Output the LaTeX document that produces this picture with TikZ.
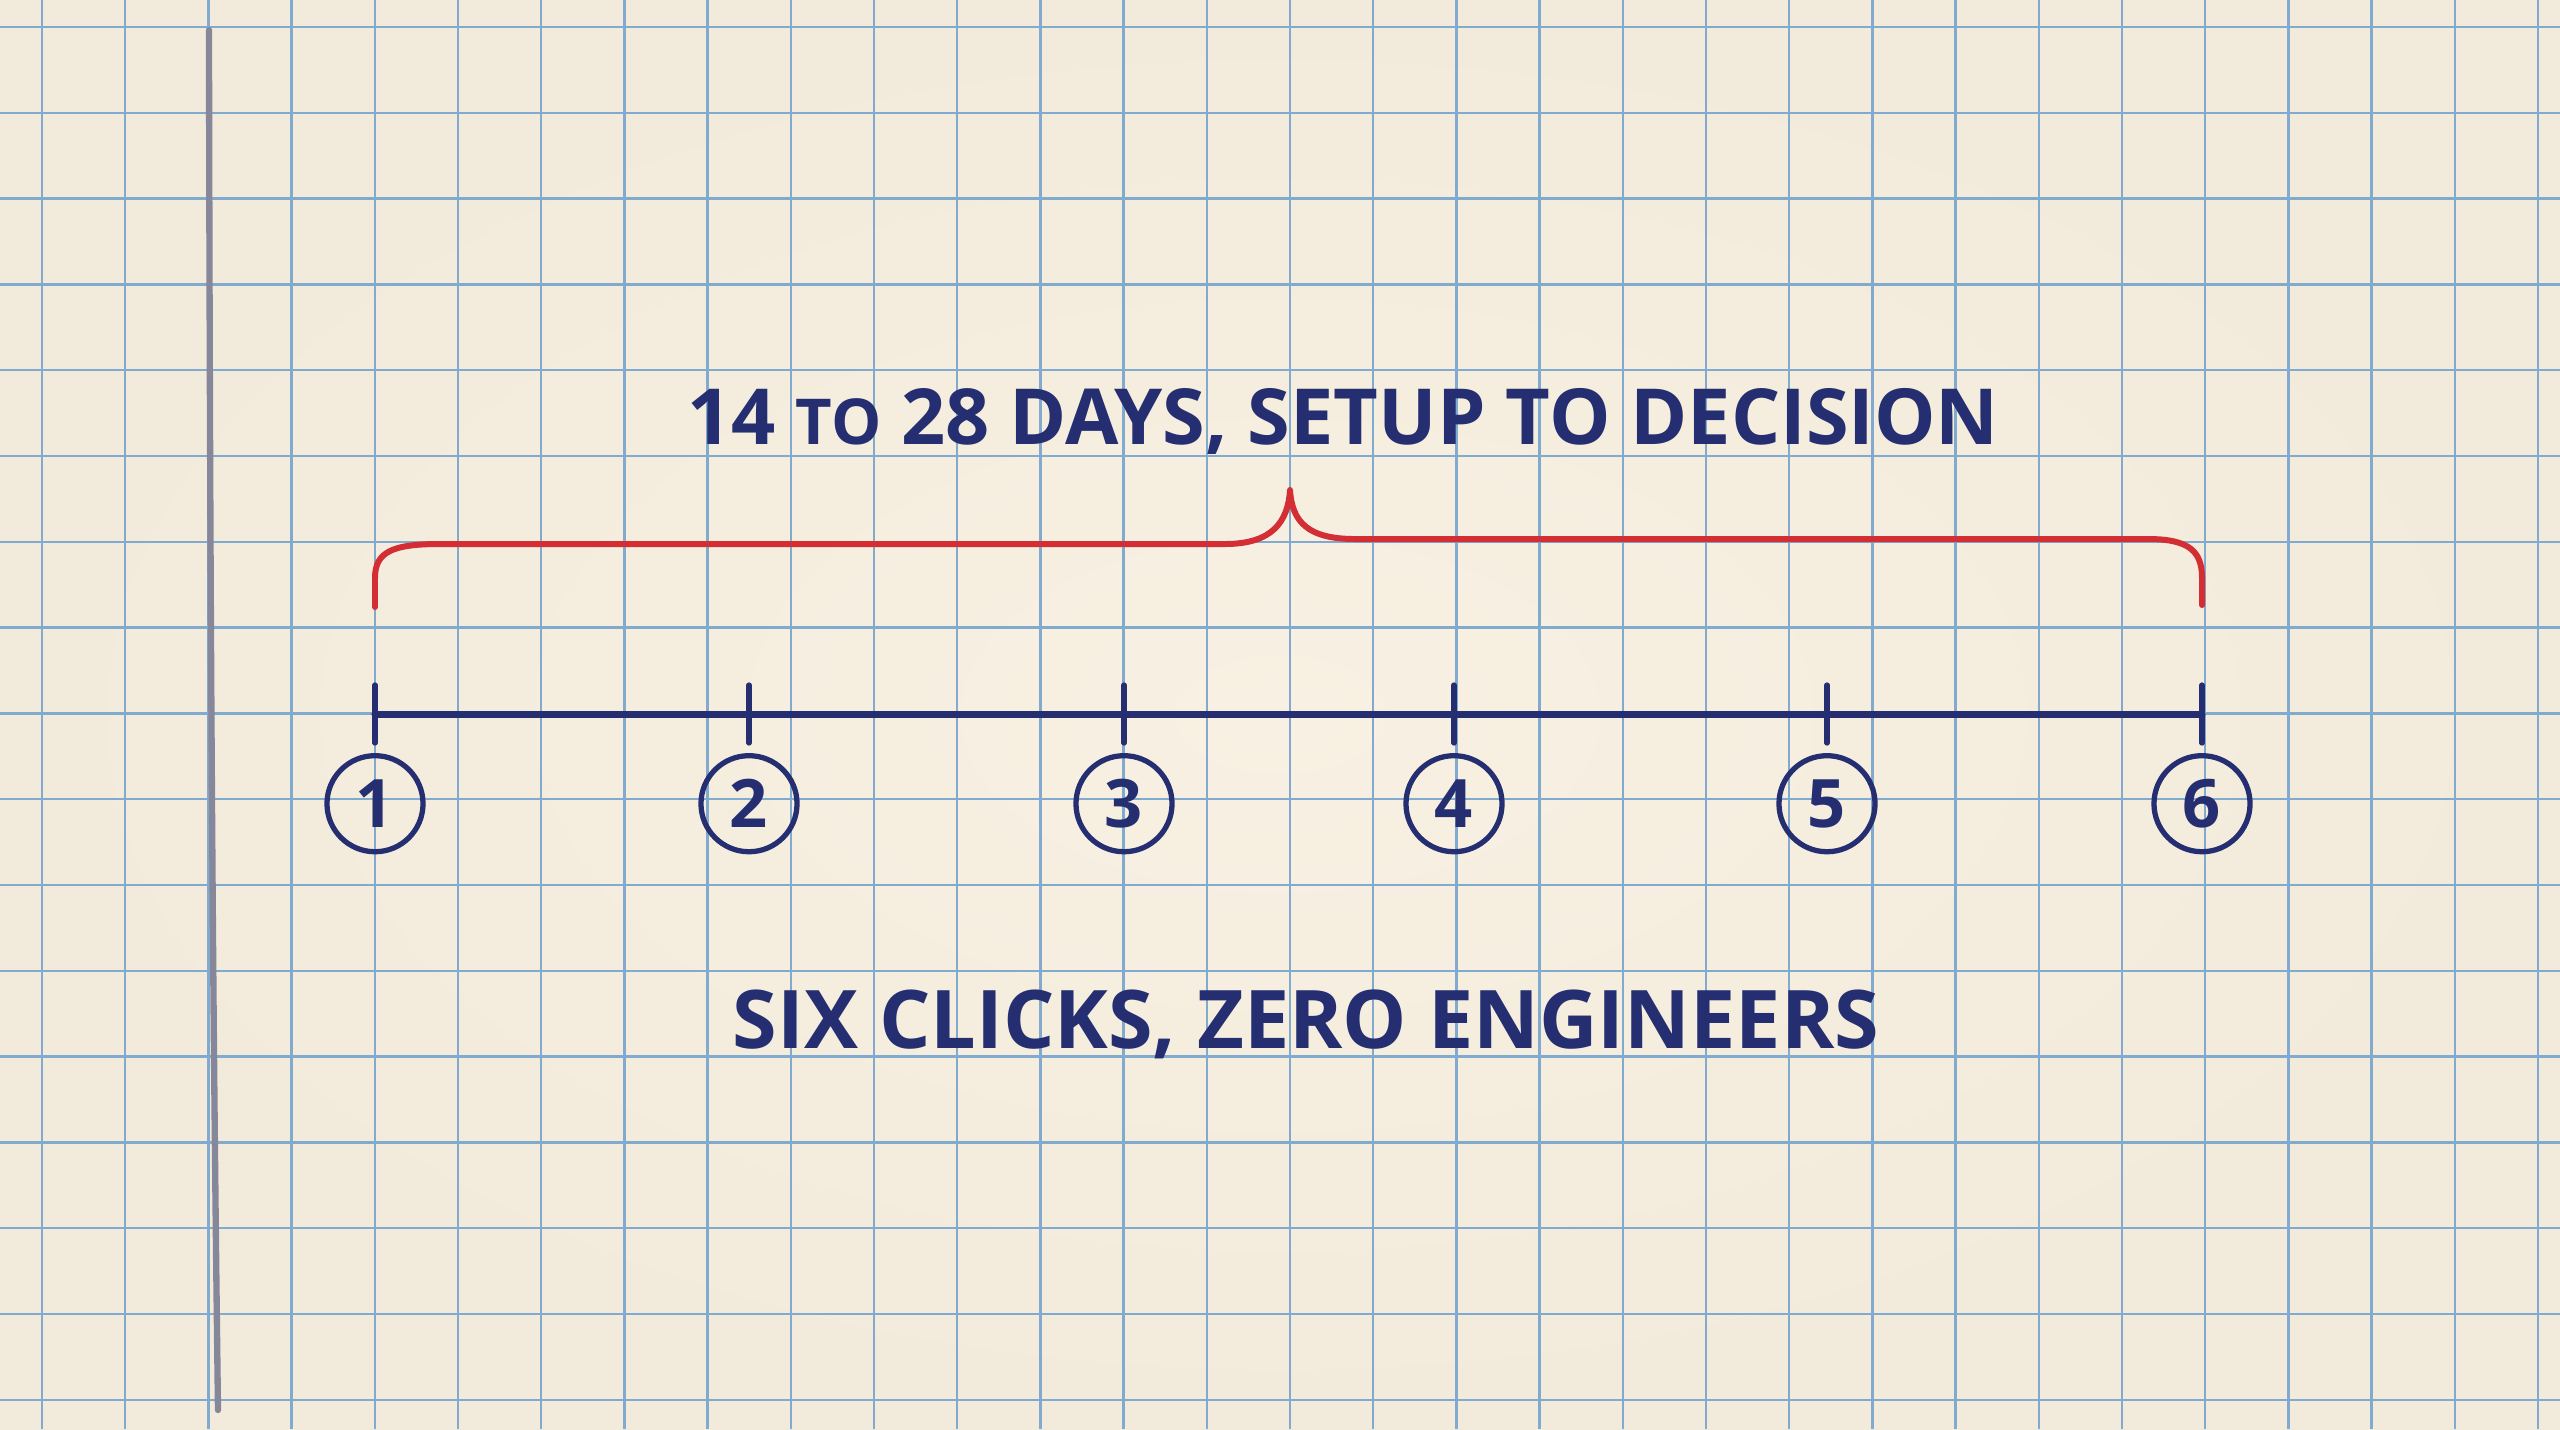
\documentclass[tikz,border=0pt]{standalone}
\usepackage{fontspec}
\setmainfont{Open Sans}
\usetikzlibrary{positioning}
\definecolor{paper}{RGB}{248,241,227}
\definecolor{paperedge}{RGB}{242,234,218}
\definecolor{gridblue}{RGB}{128,170,206}
\definecolor{ink}{RGB}{36,46,112}
\definecolor{redink}{RGB}{210,46,52}
\definecolor{pencil}{RGB}{135,135,155}

\begin{document}
\begin{tikzpicture}[
    x=0.01cm, y=-0.01cm,
    every node/.style={text=ink, inner sep=0pt},
    caption/.style={font=\fontsize{22}{24}\selectfont\bfseries},
    stop/.style={draw=ink, line width=1.5pt, circle, minimum size=0.96cm, font=\fontsize{19}{20}\selectfont\bfseries},
    axis/.style={draw=ink, line width=2pt, line cap=round},
    tick/.style={draw=ink, line width=1.5pt, line cap=round},
    bracket/.style={draw=redink, line width=1.7pt, line cap=round, line join=round},
    gridline/.style={draw=gridblue, line width=0.7pt},
  ]
  % paper and grid
  \shade[inner color=paper, outer color=paperedge] (0,0) rectangle (2560,1429);
  \useasboundingbox (0,0) rectangle (2560,1429);
  \foreach \k in {0,...,30}
    \draw[gridline] (42+83.2*\k,0) -- (42+83.2*\k,1429);
  \foreach \k in {0,...,16}
    \draw[gridline] (0,27+85.8*\k) -- (2560,27+85.8*\k);
  \draw[pencil, line width=1.8pt, line cap=round] (209,30) .. controls (210,700) and (214,1100) .. (218,1410);

  % timeline
  \coordinate (t1) at (375,714);
  \coordinate (t2) at (749,714);
  \coordinate (t3) at (1124,714);
  \coordinate (t4) at (1454,714);
  \coordinate (t5) at (1827,714);
  \coordinate (t6) at (2202,714);
  \draw[axis] (t1) -- (t6);
  \foreach \i in {1,...,6} {
    \draw[tick] (t\i) ++(0,-29) -- ++(0,58);
    \node[stop, below=0.39cm of t\i] (c\i) {\i};
  }

  % bracket and labels
  \coordinate (b-left) at (375,607);
  \coordinate (b-tip) at (1290,490);
  \coordinate (b-right) at (2202,605);
  \draw[bracket] (b-left) -- (375,578) .. controls (375,552) and (392,544) .. (440,544) -- (1225,544)
    .. controls (1272,544) and (1288,522) .. (b-tip)
    .. controls (1292,522) and (1308,539) .. (1355,539) -- (2148,539)
    .. controls (2190,539) and (2202,552) .. (2202,578) -- (b-right);
  \node[caption] (span) at (1343,421) {14 {\fontsize{18}{18}\selectfont TO} 28 DAYS, SETUP TO DECISION};
  \node[caption, font=\fontsize{23}{24}\selectfont\bfseries] (summary) at (1306,1024) {SIX CLICKS, ZERO ENGINEERS};
\end{tikzpicture}
\end{document}
